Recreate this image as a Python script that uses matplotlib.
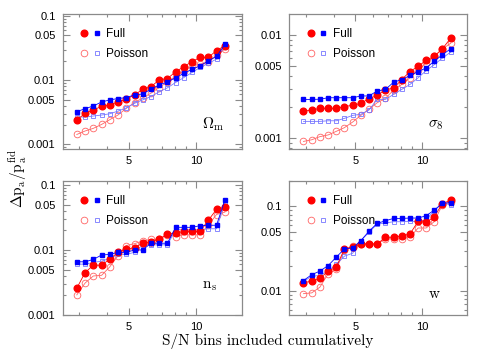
import matplotlib
matplotlib.use('Agg')
import matplotlib.pyplot as plt
from matplotlib.lines import Line2D
from matplotlib.legend_handler import HandlerTuple
from matplotlib.ticker import FixedLocator, FixedFormatter, NullFormatter

plt.rcParams['mathtext.fontset'] = 'cm'
plt.rcParams['font.family'] = ['Liberation Sans', 'DejaVu Sans']

# S/N bin (cumulative upper edge)
sn = [2.93, 3.19, 3.47, 3.78, 4.11, 4.47, 4.87, 5.30, 5.76, 6.27,
      6.83, 7.43, 8.08, 8.80, 9.57, 10.4, 11.3, 12.3, 13.4]

# Omega_m
om_full_c = [0.0024, 0.00305, 0.00345, 0.0039, 0.0041, 0.0046, 0.00505, 0.0059, 0.0072, 0.0079,
             0.0101, 0.0106, 0.0135, 0.0162, 0.0195, 0.0226, 0.0226, 0.0288, 0.0344]
om_full_s = [0.00324, 0.0036, 0.00397, 0.00458, 0.00493, 0.00518, 0.00536, 0.0059, 0.0061, 0.00723,
             0.00845, 0.0094, 0.0109, 0.0128, 0.0148, 0.0167, 0.020, 0.0234, 0.036]
om_pois_c = [0.00143, 0.00162, 0.00178, 0.00205, 0.00243, 0.00287, 0.00365, 0.00447, 0.0053, 0.00627,
             0.00768, 0.0094, 0.0114, 0.014, 0.0167, 0.0178, 0.0189, 0.0245, 0.0305]
om_pois_s = [0.00267, 0.00267, 0.00277, 0.00287, 0.0030, 0.0033, 0.0037, 0.00437, 0.00493, 0.00556,
             0.0066, 0.0076, 0.0092, 0.011, 0.0132, 0.0158, 0.0182, 0.0213, 0.0336]

# sigma_8
s8_full_c = [0.00183, 0.00188, 0.00195, 0.00195, 0.00195, 0.00203, 0.00209, 0.00218, 0.00242, 0.0026,
             0.00295, 0.00306, 0.0037, 0.00442, 0.00497, 0.00568, 0.0062, 0.00734, 0.0093]
s8_full_s = [0.00238, 0.00238, 0.00239, 0.00247, 0.00247, 0.00247, 0.00247, 0.00257, 0.00257, 0.00287,
             0.00297, 0.00349, 0.0037, 0.00405, 0.00442, 0.00479, 0.00555, 0.00643, 0.00734]
s8_pois_c = [0.000935, 0.00097, 0.00104, 0.00108, 0.00117, 0.00127, 0.00144, 0.00167, 0.00191, 0.00221,
             0.00244, 0.00293, 0.00332, 0.00385, 0.00455, 0.00535, 0.0062, 0.0073, 0.0083]
s8_pois_s = [0.00146, 0.00146, 0.00146, 0.00148, 0.00148, 0.00156, 0.00167, 0.00171, 0.00188, 0.00238,
             0.00238, 0.00266, 0.00297, 0.00332, 0.00385, 0.00452, 0.00515, 0.00597, 0.00682]

# n_s
ns_full_c = [0.00259, 0.00449, 0.00583, 0.00583, 0.00724, 0.0092, 0.0102, 0.0109, 0.0127, 0.0132,
             0.0148, 0.0175, 0.0182, 0.0193, 0.0193, 0.0193, 0.0286, 0.042, 0.0457]
ns_full_s = [0.00658, 0.00658, 0.00716, 0.00836, 0.00856, 0.0092, 0.0092, 0.010, 0.010, 0.0127,
             0.0127, 0.0127, 0.0223, 0.0223, 0.0223, 0.0237, 0.024, 0.024, 0.0587]
ns_pois_c = [0.00204, 0.0031, 0.00398, 0.00408, 0.0055, 0.00816, 0.0117, 0.0125, 0.0138, 0.0145,
             0.0145, 0.0171, 0.0161, 0.0171, 0.0171, 0.0171, 0.024, 0.0351, 0.0382]
ns_pois_s = [0.00605, 0.00605, 0.00642, 0.00674, 0.00741, 0.00856, 0.00856, 0.0092, 0.012, 0.012,
             0.012, 0.012, 0.0205, 0.0205, 0.0205, 0.0205, 0.0212, 0.0212, 0.0533]

# w
w_full_c = [0.0126, 0.013, 0.0141, 0.0172, 0.0191, 0.0315, 0.033, 0.036, 0.036, 0.036,
            0.0432, 0.0432, 0.0448, 0.0473, 0.0667, 0.0649, 0.0755, 0.108, 0.119]
w_full_s = [0.0133, 0.0156, 0.0172, 0.020, 0.0251, 0.0315, 0.0324, 0.0395, 0.0508, 0.063,
            0.0678, 0.0722, 0.0722, 0.0729, 0.0729, 0.0777, 0.0905, 0.109, 0.111]
w_pois_c = [0.0093, 0.0095, 0.0111, 0.016, 0.0181, 0.0302, 0.0345, 0.036, 0.036, 0.036,
            0.0413, 0.0413, 0.0413, 0.0432, 0.0556, 0.0556, 0.066, 0.105, 0.1135]
w_pois_s = [0.0130, 0.0149, 0.0153, 0.0172, 0.0206, 0.0258, 0.028, 0.0395, 0.0494, 0.062,
            0.0637, 0.066, 0.066, 0.0665, 0.0665, 0.0697, 0.089, 0.109, 0.105]

panels = [
    ('$\\Omega_{\\rm m}$', om_full_c, om_full_s, om_pois_c, om_pois_s, (0.00085, 0.107), (0.78, 0.15)),
    ('$\\sigma_8$', s8_full_c, s8_full_s, s8_pois_c, s8_pois_s, (0.00079, 0.0159), (0.78, 0.16)),
    ('$\\rm n_s$', ns_full_c, ns_full_s, ns_pois_c, ns_pois_s, (0.001, 0.115), (0.78, 0.20)),
    ('$\\rm w$', w_full_c, w_full_s, w_pois_c, w_pois_s, (0.0052, 0.2), (0.78, 0.13)),
]

RED = '#ff0000'
BLUE = '#0000ff'
RED_L = '#ff6464'
BLUE_L = '#7676ff'
GRAY = '#8a8a8a'

fig = plt.figure(figsize=(4.95, 3.58), dpi=100)
boxes = [
    [0.1263, 0.5838, 0.3616, 0.3771],
    [0.5844, 0.5838, 0.3596, 0.3771],
    [0.1263, 0.1201, 0.3616, 0.3743],
    [0.5844, 0.1201, 0.3596, 0.3743],
]

ymaj = [0.001, 0.005, 0.01, 0.05, 0.1]
ymaj_lab = ['0.001', '0.005', '0.01', '0.05', '0.1']
ymin = [m * d for d in [0.0001, 0.001, 0.01, 0.1] for m in [2, 3, 4, 6, 7, 8, 9]]

MC = 4.8   # circle size
MS = 3.3   # square size

for box, (name, fc, fs, pc, ps, ylim, lpos) in zip(boxes, panels):
    ax = fig.add_axes(box)
    ax.plot(sn, pc, '-o', color=RED_L, mfc='none', mec=RED_L, ms=MC, mew=0.6, lw=0.6)
    ax.plot(sn, ps, '-s', color=BLUE_L, mfc='none', mec=BLUE_L, ms=MS, mew=0.6, lw=0.6)
    ax.plot(sn, fc, '-o', color=RED, mec=RED, ms=MC, lw=0.6)
    ax.plot(sn, fs, '-s', color=BLUE, mec=BLUE, ms=MS, lw=0.6)

    ax.set_xscale('log')
    ax.set_yscale('log')
    ax.set_xlim(2.53, 15.9)
    ax.set_ylim(*ylim)

    ax.xaxis.set_major_locator(FixedLocator([5, 10]))
    ax.xaxis.set_major_formatter(FixedFormatter(['5', '10']))
    ax.xaxis.set_minor_locator(FixedLocator([3, 4, 6, 7, 8, 9]))
    ax.xaxis.set_minor_formatter(NullFormatter())
    ax.yaxis.set_major_locator(FixedLocator(ymaj))
    ax.yaxis.set_major_formatter(FixedFormatter(ymaj_lab))
    ax.yaxis.set_minor_locator(FixedLocator(ymin))
    ax.yaxis.set_minor_formatter(NullFormatter())

    ax.tick_params(which='both', direction='in', top=True, right=True,
                   color=GRAY, labelsize=8, width=0.8)
    ax.tick_params(which='major', length=5, pad=5)
    ax.tick_params(which='minor', length=2.5)
    for sp in ax.spines.values():
        sp.set_color(GRAY)
        sp.set_linewidth(0.9)

    ax.text(lpos[0], lpos[1], name, transform=ax.transAxes, fontsize=11)

    h_fc = Line2D([], [], ls='none', marker='o', color=RED, ms=MC)
    h_fs = Line2D([], [], ls='none', marker='s', color=BLUE, ms=MS)
    h_pc = Line2D([], [], ls='none', marker='o', mfc='none', mec=RED_L, ms=MC, mew=0.6)
    h_ps = Line2D([], [], ls='none', marker='s', mfc='none', mec=BLUE_L, ms=MS, mew=0.6)
    ax.legend([(h_fc, h_fs), (h_pc, h_ps)], ['Full', 'Poisson'],
              handler_map={tuple: HandlerTuple(ndivide=None, pad=0.6)},
              loc='upper left', bbox_to_anchor=(0.08, 0.93), frameon=False,
              fontsize=8.5, handlelength=1.5, handletextpad=0.6, labelspacing=0.65,
              borderaxespad=0.0)

fig.text(0.54, 0.025, 'S/N bins included cumulatively', family='cmr10',
         fontsize=11, ha='center', va='bottom')
fig.text(0.035, 0.5, '$\\Delta \\mathrm{p_a/p_a^{fid}}$', rotation=90,
         fontsize=11, ha='center', va='center')

fig.savefig('out.png', dpi=100)
